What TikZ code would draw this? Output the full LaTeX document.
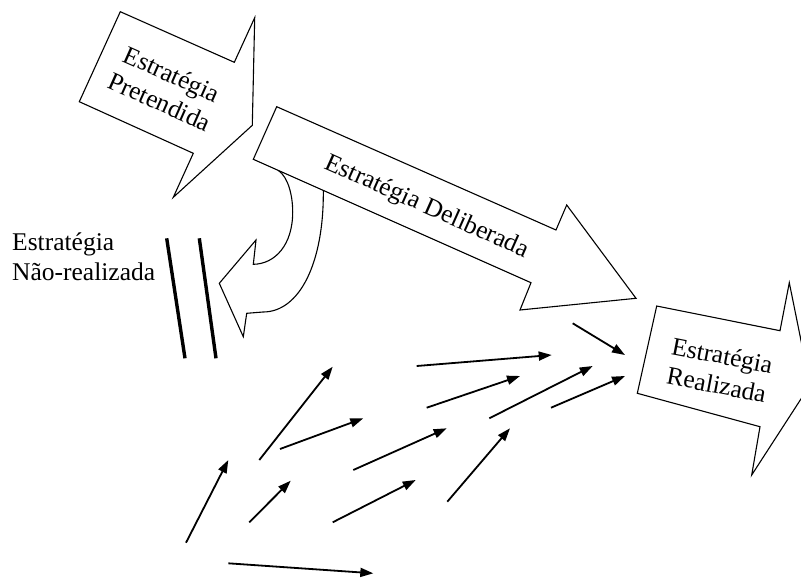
\documentclass[tikz,border=0pt]{standalone}
\usepackage{fontspec}
\setmainfont{Liberation Serif}
\usetikzlibrary{arrows.meta}
\begin{document}
\begin{tikzpicture}[x=1pt,y=-1pt,
  blockarrow/.style={draw=black, line width=1.1pt, fill=white, line join=miter},
  caption/.style={font=\fontsize{25.5}{30}\selectfont, align=center, inner sep=0pt},
  flow/.style={line width=1.8pt, -{Triangle[length=13pt,width=9pt]}},
  bar/.style={line width=3.4pt}]
\useasboundingbox (0,0) rectangle (801,579);
\clip (0,0) rectangle (801,579);

% Intended strategy
\draw[blockarrow] (120.3,11.7) -- (234.3,62.3) -- (254.7,17.7) -- (252.3,125.3)
  -- (173.3,197.3) -- (193.3,153.3) -- (79.3,101.7) -- cycle;
\node[caption, rotate=-24] (pretendida) at (166,88) {Estratégia\\Pretendida};

% U-turn arrow leaving the deliberate strategy
\draw[blockarrow] (323.3,190.4) .. controls (324,262) and (300,312) .. (263,312)
  -- (246.7,313.3) -- (243.3,336.7) -- (219.3,283.3) -- (256,240) -- (253.3,264.3)
  .. controls (275,264) and (292.7,245) .. (292.7,212)
  .. controls (292.7,195) and (288,177) .. (278.3,170.4);

% Deliberate strategy
\draw[blockarrow] (276.7,106.7) -- (556,230) -- (566.7,205) -- (636,298.3)
  -- (520,310) -- (531,282.7) -- (253.3,159.3) -- cycle;
\node[caption, rotate=-24] (deliberada) at (426.7,207.3) {Estratégia Deliberada};

% Realized strategy
\draw[blockarrow] (656.7,306) -- (780,330.7) -- (789.3,282.7) -- (810,385)
  -- (751.7,475) -- (760,426.7) -- (637.3,393.3) -- cycle;
\node[caption, rotate=-11] (realizada) at (719.5,370) {Estratégia\\Realizada};

% Unrealized strategy
\node[caption, align=left, anchor=west] (naorealizada) at (12,257) {Estratégia\\Não-realizada};
\coordinate (b1s) at (166.7,238.3);
\coordinate (b1e) at (185,358.3);
\coordinate (b2s) at (199.3,238.3);
\coordinate (b2e) at (216,358.3);
\draw[bar] (b1s) -- (b1e);
\draw[bar] (b2s) -- (b2e);

% Emergent strategy arrows
\coordinate (a1s) at (572.7,323.3);  \coordinate (a1e) at (625,355);
\coordinate (a2s) at (416.7,366);    \coordinate (a2e) at (551.7,355);
\coordinate (a3s) at (426.7,407.7);  \coordinate (a3e) at (520,376);
\coordinate (a4s) at (489.3,418.3);  \coordinate (a4e) at (592.7,366);
\coordinate (a5s) at (551,407.7);    \coordinate (a5e) at (625,376);
\coordinate (a6s) at (259.3,460);    \coordinate (a6e) at (332.7,366.7);
\coordinate (a7s) at (280,449);      \coordinate (a7e) at (363.3,418.3);
\coordinate (a8s) at (353.3,470);    \coordinate (a8e) at (446.7,428.3);
\coordinate (a9s) at (447.3,501.7);  \coordinate (a9e) at (510,428.3);
\coordinate (a10s) at (186,542.7);   \coordinate (a10e) at (228.3,460);
\coordinate (a11s) at (249.3,522.3); \coordinate (a11e) at (290.7,480.7);
\coordinate (a12s) at (332.7,522.3); \coordinate (a12e) at (415.7,480);
\coordinate (a13s) at (228.3,563.3); \coordinate (a13e) at (373.3,573.3);
\foreach \i in {1,...,13} {
  \draw[flow] (a\i s) -- (a\i e);
}
\end{tikzpicture}
\end{document}
